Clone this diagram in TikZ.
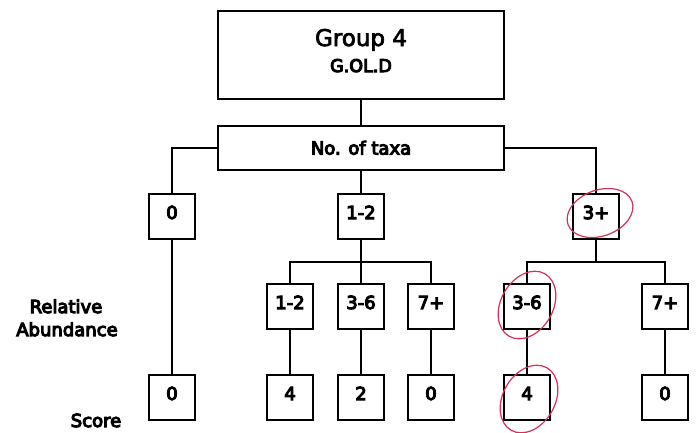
\documentclass[tikz,border=0pt]{standalone}
\usepackage{fontspec}
\newfontfamily\labfamily{DejaVu Sans}[FakeBold=6]
\newfontfamily\grpfamily{DejaVu Sans}[FakeBold=3]
\newcommand\boxfont{\labfamily\fontsize{18}{20}\selectfont}
\newcommand\grpfont{\grpfamily\fontsize{23}{26}\selectfont}
\newcommand\goldfont{\labfamily\fontsize{17.5}{19}\selectfont}
\definecolor{pen}{RGB}{214,48,88}
\begin{document}
\begin{tikzpicture}[x=1pt,y=-1pt,
  conn/.style={line width=2.2pt},
  box/.style={draw, line width=2.2pt, inner sep=0pt, minimum width=46pt, minimum height=45pt,
    font=\boxfont, text height=13pt, text depth=8pt},
  bigbox/.style={draw, line width=2.2pt, inner sep=0pt, minimum width=286pt},
  ring/.style={draw=pen, line width=1.2pt},
  lbl/.style={font=\boxfont, anchor=base, inner sep=0pt}]
\useasboundingbox (0,0) rectangle (700,432);
% header boxes
\node[bigbox, minimum height=88pt] (top) at (361,55) {};
\node[anchor=base, inner sep=0pt, font=\grpfont] (grp) at (361,46) {Group 4};
\node[anchor=base, inner sep=0pt, font=\goldfont] (gold) at (361,72) {G.OL.D};
\node[bigbox, minimum height=44pt, font=\boxfont, text height=13pt, text depth=0pt] (taxa) at (361,148) {No. of taxa};
% level 2
\node[box] (z0) at (172,216.5) {0};
\node[box] (z12) at (361,216.5) {1-2};
\node[box] (z3) at (596,216.5) {3+};
% level 3
\node[box] (a1) at (290,306.5) {1-2};
\node[box] (a2) at (361,306.5) {3-6};
\node[box] (a3) at (431,306.5) {7+};
\node[box] (a4) at (527,306.5) {3-6};
\node[box] (a5) at (665,306.5) {7+};
% level 4
\node[box] (s0) at (172,397.5) {0};
\node[box] (s1) at (290,397.5) {4};
\node[box] (s2) at (361,397.5) {2};
\node[box] (s3) at (431,397.5) {0};
\node[box] (s4) at (527,397.5) {4};
\node[box] (s5) at (665,397.5) {0};
% side labels
\node[lbl] (rel) at (66,313) {Relative};
\node[lbl] (abd) at (67,336) {Abundance};
\node[lbl] (sc) at (96,427) {Score};
% connectors
\coordinate (j1) at (361,262);
\coordinate (j2) at (596,262);
\draw[conn] (top) -- (taxa);
\draw[conn] (taxa.west) -| (z0.north);
\draw[conn] (taxa) -- (z12);
\draw[conn] (taxa.east) -| (z3.north);
\draw[conn] (z0) -- (s0);
\draw[conn] (z12) -- (a2);
\draw[conn] (a1.north) |- (j1) -| (a3.north);
\draw[conn] (z3.south) -- (j2);
\draw[conn] (a4.north) |- (j2) -| (a5.north);
\draw[conn] (a1) -- (s1);
\draw[conn] (a2) -- (s2);
\draw[conn] (a3) -- (s3);
\draw[conn] (a4) -- (s4);
\draw[conn] (a5) -- (s5);
% hand-drawn red rings
\draw[ring, rotate around={20:(600,213)}] (600,213) ellipse [x radius=34, y radius=23];
\draw[ring, rotate around={60:(527,305)}] (527,305) ellipse [x radius=36, y radius=26];
\draw[ring, rotate around={60:(529,399)}] (529,399) ellipse [x radius=36, y radius=26];
\end{tikzpicture}
\end{document}
